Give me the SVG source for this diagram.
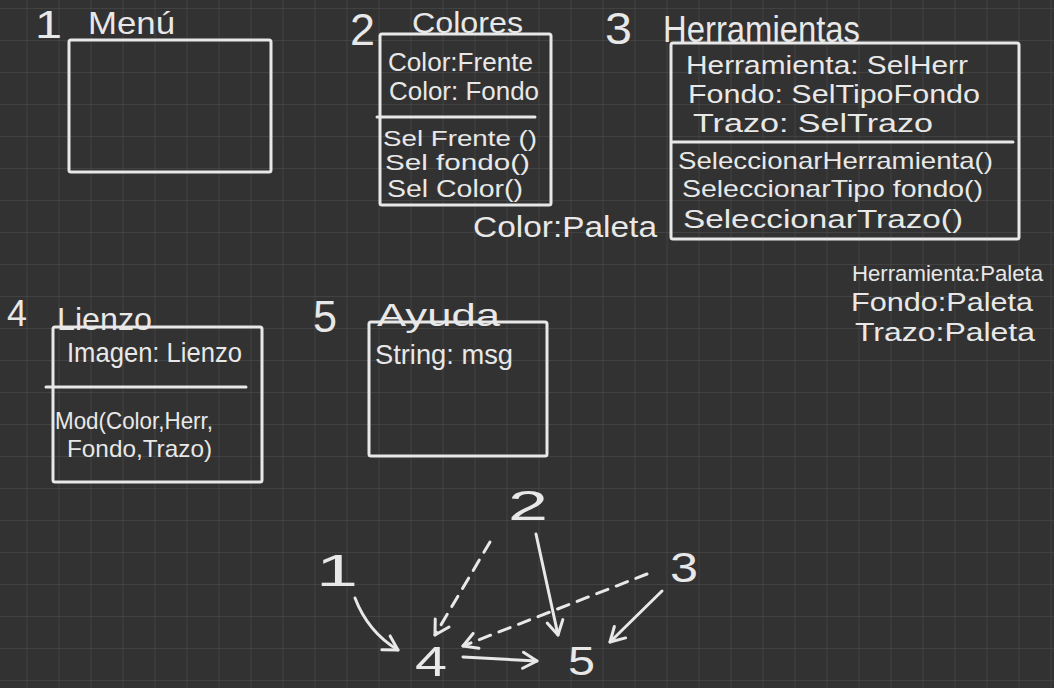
<svg xmlns="http://www.w3.org/2000/svg" width="1054" height="688" viewBox="0 0 1054 688">
<style>
.t{font-family:"Liberation Sans","DejaVu Sans",sans-serif;fill:#e8e8e8;}
.box{fill:none;stroke:#e8e8e8;stroke-width:3;stroke-linejoin:round;}
.div{stroke:#e8e8e8;stroke-width:3;stroke-linecap:round;}
.edge{fill:none;stroke:#e8e8e8;stroke-width:3;stroke-linecap:round;}
.dash{stroke-dasharray:12 9;}
</style>
<defs>
<pattern id="grid" patternUnits="userSpaceOnUse" x="26.5" y="8" width="32" height="32">
<path d="M0,0 H32 M0,0 V32" stroke="#474747" stroke-width="1.5" fill="none"/>
</pattern>
<marker id="arr" markerUnits="userSpaceOnUse" markerWidth="20" markerHeight="20" viewBox="0 0 20 20" refX="17" refY="10" orient="auto">
<path d="M3,2 L17,10 L3,18" fill="none" stroke="#e8e8e8" stroke-width="3" stroke-linecap="round" stroke-linejoin="round"/>
</marker>
</defs>
<rect width="1054" height="688" fill="#323232"/>
<rect width="1054" height="688" fill="url(#grid)"/>

<g id="node1">
<text class="t" x="35" y="38" font-size="38" textLength="27" lengthAdjust="spacingAndGlyphs">1</text>
<text class="t" x="88" y="34" font-size="32" textLength="87" lengthAdjust="spacingAndGlyphs">Menú</text>
<rect class="box" x="69" y="40" width="202" height="132" rx="2"/>
</g>

<g id="node2">
<text class="t" x="350" y="45" font-size="44" textLength="25" lengthAdjust="spacingAndGlyphs">2</text>
<text class="t" x="412" y="33" font-size="30" textLength="111" lengthAdjust="spacingAndGlyphs">Colores</text>
<rect class="box" x="380" y="34" width="171" height="171" rx="2"/>
<line class="div" x1="377" y1="117" x2="535" y2="117"/>
<text class="t" x="388" y="71" font-size="26" textLength="145" lengthAdjust="spacingAndGlyphs">Color:Frente</text>
<text class="t" x="389" y="100" font-size="26" textLength="150" lengthAdjust="spacingAndGlyphs">Color: Fondo</text>
<text class="t" x="383" y="146" font-size="22" textLength="154" lengthAdjust="spacingAndGlyphs">Sel Frente ()</text>
<text class="t" x="385" y="170" font-size="22" textLength="145" lengthAdjust="spacingAndGlyphs">Sel fondo()</text>
<text class="t" x="387" y="197" font-size="23" textLength="136" lengthAdjust="spacingAndGlyphs">Sel Color()</text>
<text class="t" x="473" y="237" font-size="30" textLength="184" lengthAdjust="spacingAndGlyphs">Color:Paleta</text>
</g>

<g id="node3">
<text class="t" x="605" y="44" font-size="44" textLength="27" lengthAdjust="spacingAndGlyphs">3</text>
<text class="t" x="663" y="42" font-size="36" textLength="197" lengthAdjust="spacingAndGlyphs">Herramientas</text>
<rect class="box" x="671" y="43" width="348" height="196" rx="2"/>
<line class="div" x1="672" y1="142" x2="1013" y2="142"/>
<text class="t" x="686" y="74" font-size="25" textLength="282" lengthAdjust="spacingAndGlyphs">Herramienta: SelHerr</text>
<text class="t" x="688" y="103" font-size="26" textLength="292" lengthAdjust="spacingAndGlyphs">Fondo: SelTipoFondo</text>
<text class="t" x="693" y="132" font-size="25" textLength="240" lengthAdjust="spacingAndGlyphs">Trazo: SelTrazo</text>
<text class="t" x="678" y="169" font-size="24" textLength="315" lengthAdjust="spacingAndGlyphs">SeleccionarHerramienta()</text>
<text class="t" x="682" y="197" font-size="24" textLength="301" lengthAdjust="spacingAndGlyphs">SeleccionarTipo fondo()</text>
<text class="t" x="683" y="228" font-size="26" textLength="280" lengthAdjust="spacingAndGlyphs">SeleccionarTrazo()</text>
<text class="t" x="852" y="281" font-size="22" textLength="191" lengthAdjust="spacingAndGlyphs">Herramienta:Paleta</text>
<text class="t" x="851" y="311" font-size="25" textLength="182" lengthAdjust="spacingAndGlyphs">Fondo:Paleta</text>
<text class="t" x="855" y="341" font-size="25" textLength="180" lengthAdjust="spacingAndGlyphs">Trazo:Paleta</text>
</g>

<g id="node4">
<text class="t" x="7" y="326" font-size="36" textLength="20" lengthAdjust="spacingAndGlyphs">4</text>
<text class="t" x="57" y="330" font-size="32" textLength="95" lengthAdjust="spacingAndGlyphs">Lienzo</text>
<rect class="box" x="53" y="327" width="209" height="155" rx="2"/>
<line class="div" x1="46" y1="387" x2="246" y2="387"/>
<text class="t" x="67" y="362" font-size="28" textLength="175" lengthAdjust="spacingAndGlyphs">Imagen: Lienzo</text>
<text class="t" x="55" y="429" font-size="24" textLength="158" lengthAdjust="spacingAndGlyphs">Mod(Color,Herr,</text>
<text class="t" x="67" y="457" font-size="24" textLength="145" lengthAdjust="spacingAndGlyphs">Fondo,Trazo)</text>
</g>

<g id="node5">
<text class="t" x="313" y="332" font-size="44" textLength="24" lengthAdjust="spacingAndGlyphs">5</text>
<text class="t" x="377" y="326" font-size="32" textLength="123" lengthAdjust="spacingAndGlyphs">Ayuda</text>
<rect class="box" x="369" y="322" width="178" height="134" rx="2"/>
<text class="t" x="375" y="364" font-size="28" textLength="138" lengthAdjust="spacingAndGlyphs">String: msg</text>
</g>

<g id="g-n1"><text class="t" x="316" y="586" font-size="44" textLength="42" lengthAdjust="spacingAndGlyphs">1</text></g>
<g id="g-n2"><text class="t" x="508" y="520" font-size="42" textLength="40" lengthAdjust="spacingAndGlyphs">2</text></g>
<g id="g-n3"><text class="t" x="670" y="582" font-size="42" textLength="28" lengthAdjust="spacingAndGlyphs">3</text></g>
<g id="g-n4"><text class="t" x="415" y="676" font-size="42" textLength="32" lengthAdjust="spacingAndGlyphs">4</text></g>
<g id="g-n5"><text class="t" x="568" y="675" font-size="40" textLength="27" lengthAdjust="spacingAndGlyphs">5</text></g>

<g id="connectors">
<path class="edge" d="M355,598 Q368,632 398,650" marker-end="url(#arr)"/>
<path class="edge dash" d="M490,542 L435,635" marker-end="url(#arr)"/>
<path class="edge" d="M536,534 L558,635" marker-end="url(#arr)"/>
<path class="edge dash" d="M647,574 L463,646" marker-end="url(#arr)"/>
<path class="edge" d="M662,591 L610,642" marker-end="url(#arr)"/>
<path class="edge" d="M463,657 L537,661" marker-end="url(#arr)"/>
</g>
</svg>
